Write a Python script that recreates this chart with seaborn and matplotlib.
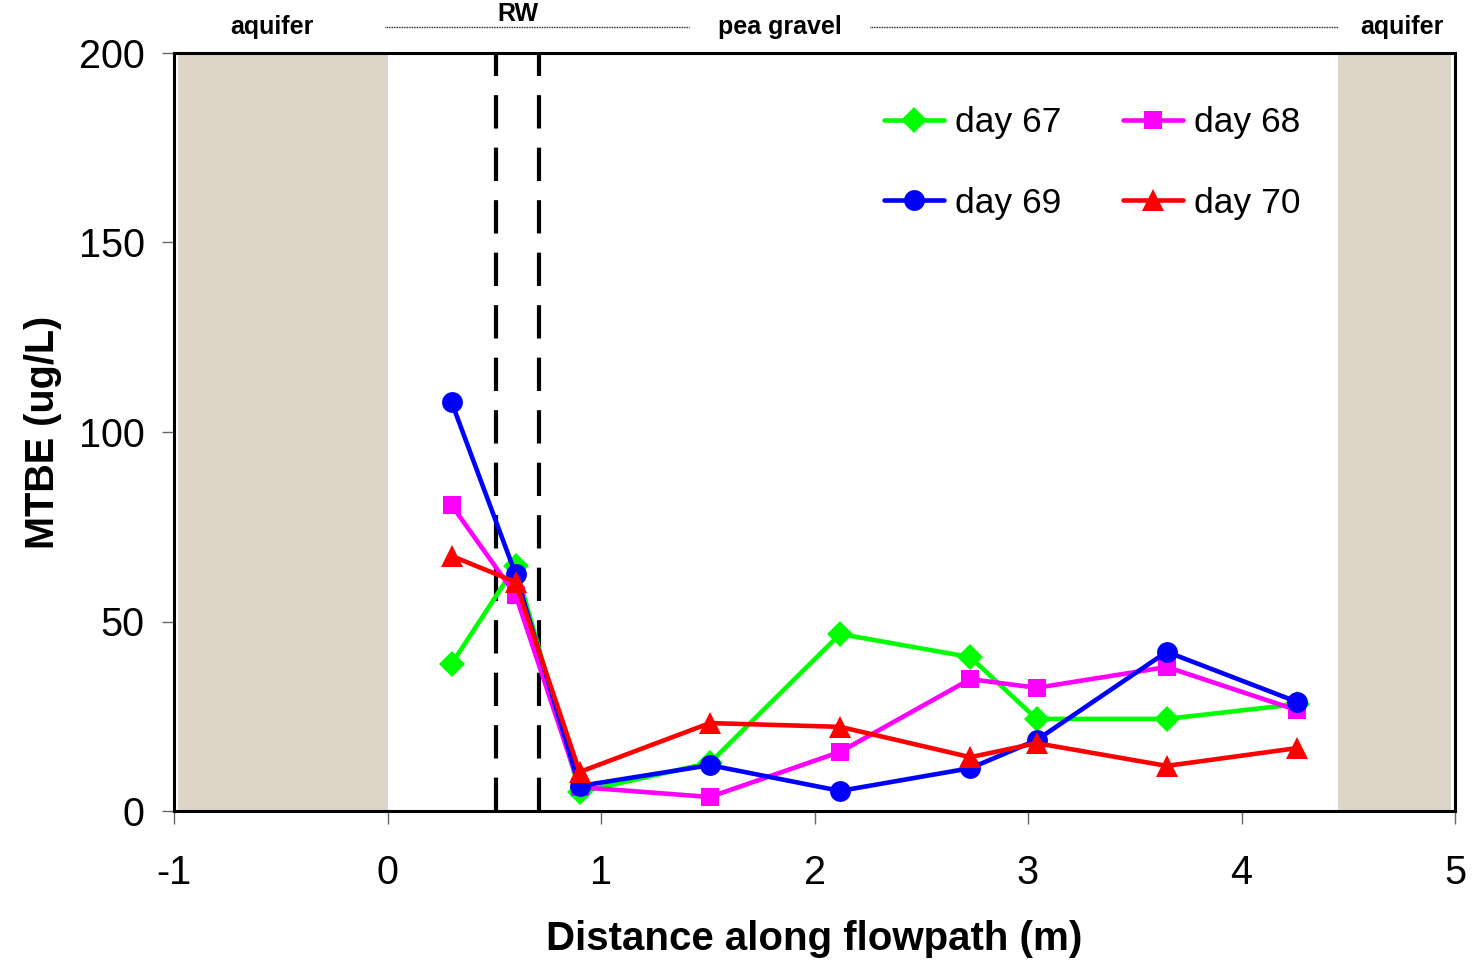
import matplotlib
matplotlib.use("Agg")
import matplotlib.pyplot as plt
import seaborn as sns
import pandas as pd
from matplotlib.lines import Line2D
import matplotlib.transforms as mtransforms

# ---- data ----
distance = [0.30, 0.60, 0.90, 1.51, 2.12, 2.73, 3.04, 3.65, 4.26]
day67 = [38.8, 64.6, 5.0, 12.7, 46.7, 40.6, 24.3, 24.3, 28.2]
day68 = [80.7, 57.0, 6.3, 3.7, 15.6, 34.8, 32.5, 38.0, 26.6]
day69 = [107.9, 62.5, 6.6, 12.1, 5.3, 11.3, 18.7, 42.0, 28.8]
day70 = [67.3, 60.4, 10.3, 23.2, 22.2, 14.2, 17.9, 11.9, 16.6]
series_names = ["day 67", "day 68", "day 69", "day 70"]
series_vals = [day67, day68, day69, day70]
colors = ["#00ff00", "#ff00ff", "#0000ff", "#ff0000"]
marker_shapes = ["D", "s", "o", "^"]
marker_sizes = {"D": 13.5, "s": 13, "o": 15, "^": 15.5}

rw_walls = [0.51, 0.71]
aquifer_left = (-0.98, 0.0)
aquifer_right = (4.45, 4.98)
xticks = [-1, 0, 1, 2, 3, 4, 5]
yticks = [0, 50, 100, 150, 200]

df = pd.DataFrame({
    "x": [d for _ in series_names for d in distance],
    "y": [v for vals in series_vals for v in vals],
    "day": [n for n in series_names for _ in distance],
})

sns.set_style("white")
plt.rcParams["font.family"] = ["Liberation Sans", "DejaVu Sans"]
plt.rcParams["text.color"] = "black"
plt.rcParams["axes.labelcolor"] = "black"
plt.rcParams["xtick.color"] = "black"
plt.rcParams["ytick.color"] = "black"

fig = plt.figure(figsize=(14.74, 9.63), dpi=100)
ax = fig.add_axes([174 / 1474, 1 - 811 / 963, (1455 - 174) / 1474, (811 - 53) / 963])

ax.axvspan(*aquifer_left, color="#ddd6c8", lw=0, zorder=0)
ax.axvspan(*aquifer_right, color="#ddd6c8", lw=0, zorder=0)
for xw in rw_walls:
    ax.axvline(xw, color="black", lw=3, dashes=(8, 4.6), zorder=1)

sns.lineplot(data=df, x="x", y="y", hue="day", style="day",
             hue_order=series_names, style_order=series_names,
             palette=dict(zip(series_names, colors)),
             markers=dict(zip(series_names, marker_shapes)),
             dashes=False, sort=False, errorbar=None,
             linewidth=3.3, markersize=13, markeredgewidth=0,
             ax=ax, zorder=3, legend=False)
for line, m in zip(ax.get_lines()[-4:], marker_shapes):
    line.set_markersize(marker_sizes[m])

ax.set_xlim(-1, 5)
ax.set_ylim(0, 200)
ax.set_xticks(xticks)
ax.set_yticks(yticks)
ax.set_xticklabels([str(t) for t in xticks])
ax.tick_params(axis="both", direction="out", length=9, width=1, color="#666666",
               labelcolor="black", labelsize=28.5, bottom=True, left=True)
ax.tick_params(axis="x", pad=22)
ax.tick_params(axis="y", pad=12)
for sp in ax.spines.values():
    sp.set_visible(True)
    sp.set_color("black")
    sp.set_linewidth(2.2)

ax.set_xlabel("Distance along flowpath (m)", fontsize=29, fontweight="bold", labelpad=20)
ax.set_ylabel("MTBE (ug/L)", fontsize=28.5, fontweight="bold", labelpad=12)

# legend
handles = [Line2D([], [], color=c, marker=m, lw=3.3,
                  markersize=marker_sizes[m], markeredgewidth=0)
           for c, m in zip(colors, marker_shapes)]
order = [0, 2, 1, 3]
ax.legend([handles[i] for i in order], [series_names[i] for i in order],
          ncol=2, frameon=False, fontsize=25.5, loc="upper left",
          bbox_to_anchor=(0.554, 0.93), borderpad=0, borderaxespad=0,
          handlelength=1.7, handletextpad=0.3, columnspacing=1.75,
          labelspacing=1.35)

# zone labels above the plot
trans = mtransforms.blended_transform_factory(ax.transData, ax.transAxes)
zone_kw = dict(transform=trans, ha="center", va="center", fontsize=18, fontweight="bold")
ax.text(-0.54, 1.034, "aquifer", **zone_kw)
ax.text(0.61, 1.052, "RW", **zone_kw)
ax.text(1.84, 1.034, "pea gravel", **zone_kw)
ax.text(4.75, 1.034, "aquifer", **zone_kw)
for x0, x1 in [(-0.01, 1.41), (2.26, 4.45)]:
    ax.add_line(Line2D([x0, x1], [1.034, 1.034], transform=trans, color="black",
                       lw=1.0, ls=(0, (0.6, 0.6)), clip_on=False))

fig.savefig("out.png", dpi=100)
